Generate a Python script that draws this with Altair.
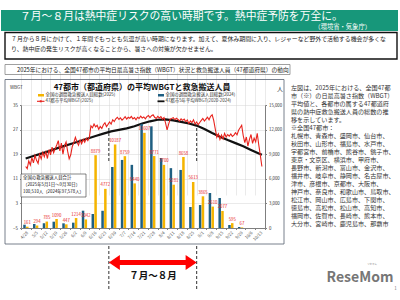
import altair as alt
import pandas as pd

FONT = "Noto Sans CJK JP"
TEAL = "#17977a"
BLUE = "#1f5f82"
GOLD = "#f5b400"
RED = "#e8231d"

# ---- weekly heat-stroke ambulance transports (people) ----
week_labels = ["4/28", "5/5", "5/12", "5/19", "5/26", "6/2", "6/9", "6/16", "6/23",
               "6/30", "7/7", "7/14", "7/21", "7/28", "8/4", "8/11", "8/18", "8/25",
               "9/1", "9/8", "9/15", "9/22", "9/29", "10/6", "10/13"]
weeks_with_data = week_labels[:23]
people_2025 = [161, 294, 785, 1090, 447, 1214, 1042, 8879, 4772, 10187, 8759, 5440,
               11607, 8771, 7700, 5281, 8658, 5613, 3865, 2610, 2077, 595, 67]
people_2024 = [400, 490, 570, 770, 570, 650, 2110, 1710, 2100, 7440, 8300, 7700,
               12700, 12400, 8540, 7300, 7080, 2560, 2800, 4270, 3660, 370, 120]

# ---- daily mean of the max WBGT over 47 cities, 2025-05-01 .. 2025-09-30 ----
wbgt_2025 = [
    15.0, 14.3, 16.8, 15.5, 17.9, 16.2,
    18.6, 17.0, 16.0, 18.9, 17.5, 19.6, 18.2,
    19.8, 17.6, 20.5, 18.8, 21.3, 19.5, 20.8,
    22.0, 23.4, 20.1, 22.6, 19.0, 21.8, 23.0,
    20.0, 17.5, 18.8, 21.5, 22.8, 24.5, 23.0,
    21.9, 23.6, 22.4, 23.8, 22.9, 24.2, 23.4,
    24.6, 28.2, 27.6, 28.8, 27.9, 28.4, 27.1,
    28.0, 27.4, 28.6, 29.2, 28.0, 28.7, 29.5, 28.8,
    30.2, 29.6, 30.5, 31.0, 30.3, 30.8, 30.1,
    30.6, 31.2, 30.4, 31.0, 30.7, 31.3, 30.5,
    30.9, 30.2, 31.0, 30.6, 31.4, 30.8, 31.1,
    30.5, 31.2, 31.6, 30.9, 31.5, 31.8, 31.0,
    30.6, 31.3, 30.8, 31.2, 30.4, 30.9, 29.2,
    26.9, 28.8, 30.4, 30.6, 30.9, 30.2, 30.7,
    30.3, 29.8, 30.5, 30.0, 30.4, 29.6, 30.1,
    29.0, 29.8, 29.3, 30.2, 28.8, 29.5, 28.6,
    29.3, 30.0, 30.6, 29.8, 30.4, 31.0, 30.2,
    31.3, 31.8, 30.0, 27.2,
    24.5, 25.6, 23.8, 25.2, 24.0, 25.8, 24.6, 25.4, 24.9,
    25.6, 24.8, 25.2, 26.0, 25.3, 26.8, 27.6, 28.4,
    25.0, 22.8, 24.6, 21.6, 23.8, 25.4, 22.5, 24.2, 23.0,
    25.8, 22.0, 18.6, 15.0,
]
wbgt_dates = pd.date_range("2025-05-01", "2025-09-30", freq="D")

# 5-year (2020-2024) average, sampled every 5 days
avg_dates = list(pd.date_range("2025-05-01", periods=31, freq="5D")) + [pd.Timestamp("2025-09-30")]
wbgt_avg = [17.6, 18.4, 19.2, 20.0, 20.9, 21.7, 22.5, 23.3, 24.1, 24.9, 25.7, 26.4,
            26.9, 27.4, 28.1, 29.0, 29.7, 30.2, 30.3, 30.0, 29.5, 29.0, 28.3, 27.2,
            25.9, 24.7, 23.6, 22.6, 21.6, 20.4, 19.2, 18.8]

wbgt_ticks = list(range(-5, 36, 2))
people_ticks = list(range(0, 15001, 1500))

# July–August boundaries (start of the 6/30 week, start of the 9/1 week)
period_edges = ["6/30", "9/1"]
period_shaft = ["6/30", "8/25"]

# ---------------------------------------------------------------------------
bars_df = pd.DataFrame({
    "week": weeks_with_data * 2,
    "year": ["2024"] * 23 + ["2025"] * 23,
    "people": people_2024 + people_2025,
})
lab_df = pd.DataFrame({"week": weeks_with_data, "year": "2025", "people": people_2025})
red_df = pd.DataFrame({"date": wbgt_dates, "wbgt": wbgt_2025})
avg_df = pd.DataFrame({"date": avg_dates, "wbgt": wbgt_avg})
edge_df = pd.DataFrame({"week": period_edges})
shaft_df = pd.DataFrame({"week": period_shaft})
one = pd.DataFrame({"k": [0]})

# plot rectangle inside the 400x300 canvas
X0, X1, Y0, Y1 = 21, 265, 105, 228

x_band = alt.Scale(domain=week_labels, range=[X0, X1], paddingInner=0, paddingOuter=0)
x_day = alt.Scale(domain=[alt.DateTime(year=2025, month=4, date=28),
                         alt.DateTime(year=2025, month=10, date=2)], range=[X0, X1])
y_people = alt.Scale(domain=[0, 15000], range=[Y1, Y0], nice=False, zero=True)
y_wbgt = alt.Scale(domain=[-5, 35], range=[Y1, Y0], nice=False, zero=False)
off_scale = alt.Scale(domain=["2024", "2025"], paddingInner=0.1, paddingOuter=0.8)

x_axis = alt.Axis(orient="bottom", offset=Y1 - 300, labelAngle=-45, tickBand="extent",
                  grid=True, gridColor="#d4d4d4", gridWidth=0.5, domainColor="#7f7f7f",
                  tickColor="#7f7f7f", tickSize=1.5, labelFontSize=4.3, labelColor="#555",
                  labelFont=FONT, labelPadding=1, title=None)
people_axis = alt.Axis(orient="right", offset=X1 - 400, values=people_ticks, format=",d",
                       grid=False, domainColor="#7f7f7f", tickColor="#7f7f7f", tickSize=1.5,
                       labelFontSize=4.3, labelColor="#333", labelFont=FONT, labelPadding=2,
                       title=None)
wbgt_axis = alt.Axis(orient="left", offset=-X0, values=wbgt_ticks, grid=True,
                     gridColor="#d4d4d4", gridWidth=0.5, domainColor="#7f7f7f",
                     tickColor="#7f7f7f", tickSize=1.5, labelFontSize=4.5, labelColor="#333",
                     labelFont=FONT, labelPadding=2, title=None)


def text(t, x, y, size, color="#222", weight="normal", align="left", baseline="middle",
         line_height=None):
    kw = {"lineHeight": line_height} if line_height else {}
    return alt.Chart(one).mark_text(align=align, baseline=baseline, fontSize=size, font=FONT,
                                    color=color, fontWeight=weight, **kw).encode(
        x=alt.value(x), y=alt.value(y), text=alt.value(t))


def box(x, x2, y, y2, fill="white", stroke=None, width=1.0):
    kw = {"stroke": stroke, "strokeWidth": width} if stroke else {}
    if fill is None:
        kw["fillOpacity"] = 0
        fill = "white"
    return alt.Chart(one).mark_rect(fill=fill, **kw).encode(
        x=alt.value(x), x2=alt.value(x2), y=alt.value(y), y2=alt.value(y2))


def seg(x, x2, y, y2, color, width, dash=None):
    kw = {"strokeDash": dash} if dash else {}
    return alt.Chart(one).mark_rule(color=color, strokeWidth=width, **kw).encode(
        x=alt.value(x), x2=alt.value(x2), y=alt.value(y), y2=alt.value(y2))


# ---- weekly bars, their labels and the July–August marker (share the band scale) ----
bars = alt.Chart(bars_df).mark_bar().encode(
    x=alt.X("week:N", scale=x_band, sort=week_labels, axis=x_axis),
    xOffset=alt.XOffset("year:N", scale=off_scale),
    y=alt.Y("people:Q", scale=y_people, axis=people_axis),
    color=alt.Color("year:N", scale=alt.Scale(domain=["2024", "2025"], range=[BLUE, GOLD]),
                    legend=None),
)
bar_labels = alt.Chart(lab_df).mark_text(fontSize=4.3, font=FONT, color=RED, baseline="bottom",
                                         dy=-1.5).encode(
    x=alt.X("week:N", scale=x_band, sort=week_labels),
    xOffset=alt.XOffset("year:N", scale=off_scale),
    y=alt.Y("people:Q", scale=y_people),
    text=alt.Text("people:Q", format="d"),
)
dash_in = alt.Chart(edge_df).mark_rule(color="#333", strokeWidth=1, strokeDash=[3, 2]).encode(
    x=alt.X("week:N", scale=x_band, sort=week_labels, bandPosition=0),
    y=alt.value(128), y2=alt.value(162))
dash_out = alt.Chart(edge_df).mark_rule(color="#333", strokeWidth=1, strokeDash=[3, 2]).encode(
    x=alt.X("week:N", scale=x_band, sort=week_labels, bandPosition=0),
    y=alt.value(246), y2=alt.value(291))
shaft = alt.Chart(shaft_df).mark_line(color="#ff0000", strokeWidth=5, strokeCap="butt").encode(
    x=alt.X("week:N", scale=x_band, sort=week_labels),
    y=alt.value(262.5))
head_l = alt.Chart(edge_df.iloc[[0]]).mark_point(
    shape="M 0 0 L 1.47 -1 L 1.47 1 Z", size=225, filled=True, color="#ff0000", opacity=1).encode(
    x=alt.X("week:N", scale=x_band, sort=week_labels, bandPosition=0), y=alt.value(262.5))
head_r = alt.Chart(edge_df.iloc[[1]]).mark_point(
    shape="M 0 0 L -1.47 -1 L -1.47 1 Z", size=225, filled=True, color="#ff0000", opacity=1).encode(
    x=alt.X("week:N", scale=x_band, sort=week_labels, bandPosition=0), y=alt.value(262.5))

bar_group = alt.layer(bars, bar_labels, dash_in, dash_out, shaft, head_l, head_r)

# ---- daily WBGT lines ----
avg_line = alt.Chart(avg_df).mark_line(color="#111", strokeWidth=2.2).encode(
    x=alt.X("date:T", scale=x_day, axis=None),
    y=alt.Y("wbgt:Q", scale=y_wbgt, axis=wbgt_axis))
red_line = alt.Chart(red_df).mark_line(color=RED, strokeWidth=1.1).encode(
    x=alt.X("date:T", scale=x_day, axis=None),
    y=alt.Y("wbgt:Q", scale=y_wbgt))
line_group = alt.layer(avg_line, red_line)

# ---- slide furniture ----
banner = box(1, 398, 10, 31, fill=TEAL)
title = text("７月～８月は熱中症リスクの高い時期です。熱中症予防を万全に。", 20, 16.5, 10.8, color="white")
source = text("（環境省・気象庁）", 371, 26.5, 6.3, color="white", align="right")
intro_box = box(5, 397, 32.5, 59, fill=None, stroke="#111", width=1.4)
intro = text(["７月から８月にかけて、１年間でもっとも気温が高い時期になります。加えて、夏休み期間に入り、レジャーなど野外で活動する機会が多くな",
              "り、熱中症の発生リスクが高くなることから、暑さへの対策が欠かせません。"],
             11, 35.5, 5.9, baseline="top", line_height=10.5)
cap_box = box(5, 290, 64.5, 74.5, fill=None, stroke="#777", width=0.7)
cap = text("2025年における、全国47都市の平均日最高暑さ指数（WBGT）状況と救急搬送人員（47都道府県）の動向",
           17, 69.5, 5.75)
panel = box(5, 284, 79.5, 244, fill=None, stroke="#556070", width=0.8)
chart_title = text("47都市（都道府県）の平均WBGTと救急搬送人員", 142, 87.5, 8, weight="bold",
                   align="center", color="#111")
wbgt_title = text("WBGT", 10, 87.5, 4.6, color="#333")
people_title = text("人", 280, 89, 6, color="#333", align="center")

leg = [
    box(38, 44, 94, 96.5, fill=GOLD),
    text("全国の週間救急搬送人員総数(2025)", 45.5, 95.3, 4.4, color="#333"),
    box(158, 164, 94, 96.5, fill=BLUE),
    text("全国の週間救急搬送人員総数(2024)", 165.5, 95.3, 4.4, color="#333"),
    seg(37, 44.5, 101.3, 101.3, RED, 1.1),
    box(39.8, 41.7, 100.3, 102.3, fill=RED),
    text("47都市平均WBGT(2025)", 45.5, 101.3, 4.4, color="#333"),
    seg(157.5, 164.5, 101.3, 101.3, "#111", 1.8),
    text("47都市5年平均WBGT(2020-2024)", 165.5, 101.3, 4.4, color="#333"),
]

sum_box = box(21, 86, 174, 197, stroke="#333", width=0.6)
sum_text = text(["全国の救急搬送人員合計", "（2025年5月1日～9月30日）", "100,510人（2024年97,578人）"],
                23, 176, 4.4, color="#111", baseline="top", line_height=6.8)

period = text("７月～８月", 153, 276, 9.5, weight="bold", align="center", color="#111")

side = text(["左図は、2025年における、全国47都",
             "市（※）の日最高暑さ指数（WBGT）",
             "平均値と、各都市の属する47都道府",
             "県の熱中症救急搬送人員の総数の推",
             "移を示しています。",
             "",
             "※全国47都市：",
             "札幌市、青森市、盛岡市、仙台市、",
             "秋田市、山形市、福島市、水戸市、",
             "宇都宮市、前橋市、熊谷市、銚子市、",
             "東京・文京区、横浜市、甲府市、",
             "長野市、新潟市、富山市、金沢市、",
             "福井市、岐阜市、静岡市、名古屋市、",
             "津市、彦根市、京都市、大阪市、",
             "神戸市、奈良市、和歌山市、鳥取市、",
             "松江市、岡山市、広島市、下関市、",
             "徳島市、高松市、松山市、高知市、",
             "福岡市、佐賀市、長崎市、熊本市、",
             "大分市、宮崎市、鹿児島市、那覇市"],
            291, 84.5, 6.1, color="#333", baseline="top", line_height=8.05)

logo = text("ReseMom", 360, 278, 14, color="#767676", weight="bold", align="center")
logo_kana = text("リセマム", 372, 264, 2.4, color="#888", align="center")
page_no = text("1", 395.5, 289, 4.5, color="#777", align="center")

chart = alt.layer(
    banner, intro_box, cap_box, panel,
    line_group, bar_group,
    sum_box, sum_text,
    title, source, intro, cap, chart_title, wbgt_title, people_title,
    *leg, period, side, logo, logo_kana, page_no,
).resolve_scale(x="independent", y="independent", color="independent", xOffset="independent"
).properties(
    width=400, height=300, autosize=alt.AutoSizeParams(type="none"), padding=0,
    background="white",
).configure_view(stroke=None)

chart.save("out.html", embed_options={"renderer": "svg", "actions": False})
